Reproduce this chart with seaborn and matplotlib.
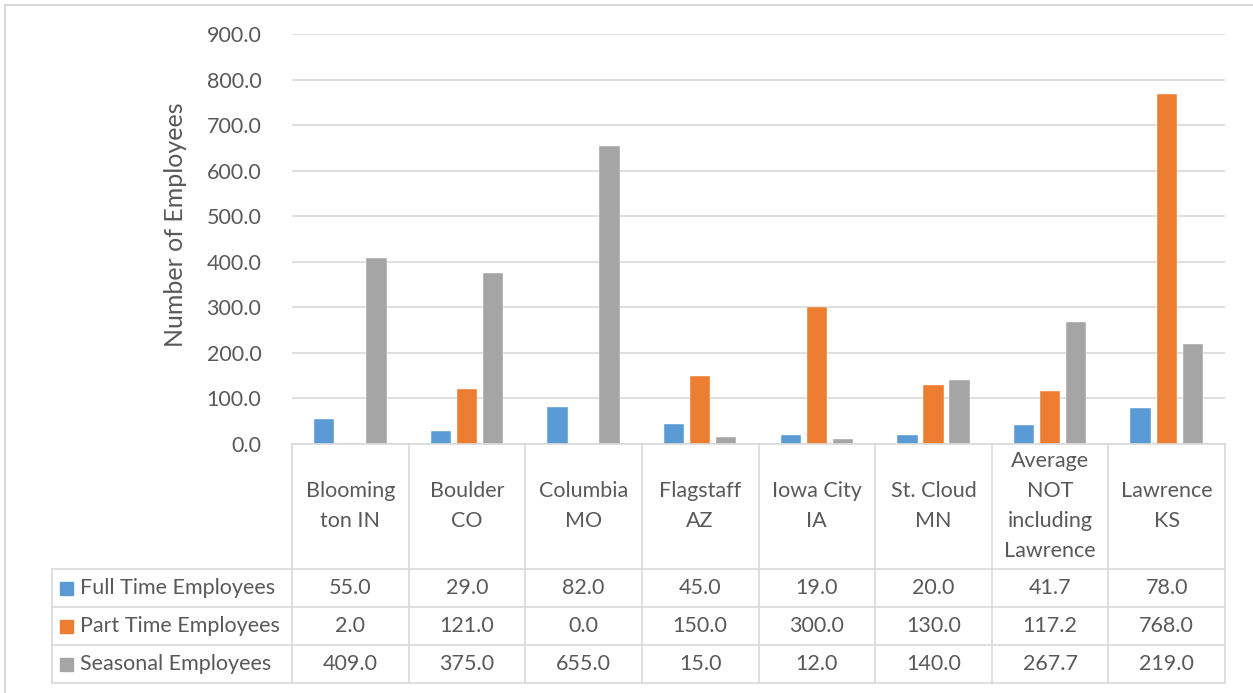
import numpy as np
import pandas as pd
import matplotlib
matplotlib.use('Agg')
import matplotlib.pyplot as plt
import seaborn as sns
from matplotlib.transforms import blended_transform_factory
from matplotlib.lines import Line2D
from matplotlib.patches import Rectangle

categories = ['Blooming\nton IN', 'Boulder\nCO', 'Columbia\nMO', 'Flagstaff\nAZ',
              'Iowa City\nIA', 'St. Cloud\nMN', 'Average\nNOT\nincluding\nLawrence',
              'Lawrence\nKS']
series_names = ['Full Time Employees', 'Part Time Employees', 'Seasonal Employees']
full_time = [55.0, 29.0, 82.0, 45.0, 19.0, 20.0, 41.7, 78.0]
part_time = [2.0, 121.0, 0.0, 150.0, 300.0, 130.0, 117.2, 768.0]
seasonal = [409.0, 375.0, 655.0, 15.0, 12.0, 140.0, 267.7, 219.0]
yticks = [0, 100, 200, 300, 400, 500, 600, 700, 800, 900]

colors = ['#5B9BD5', '#ED7D31', '#A5A5A5']
text_col = '#595959'
line_col = '#D9D9D9'
fs = 15.5

sns.set_theme(style='white')
plt.rcParams['font.family'] = ['Lato', 'DejaVu Sans']

df = pd.DataFrame({
    'city': categories * 3,
    'series': sum([[s] * len(categories) for s in series_names], []),
    'value': full_time + part_time + seasonal,
})

W, H = 1253, 693
fig = plt.figure(figsize=(W / 100, H / 100), dpi=100)
fig.patch.set_facecolor('white')

x0, x1 = 292, 1225
y_top, y_base = 34, 444
ax = fig.add_axes([x0 / W, 1 - y_base / H, (x1 - x0) / W, (y_base - y_top) / H])

sns.barplot(data=df, x='city', y='value', hue='series', palette=colors,
            saturation=1, width=0.67, gap=0.22, ax=ax, legend=False,
            edgecolor='white', linewidth=0.3)

ax.set_xlim(-0.5, len(categories) - 0.5)
ax.set_ylim(0, 900)
ax.set_yticks(yticks)
ax.set_yticklabels([f'{v:.1f}' for v in yticks], color=text_col, fontsize=fs)
ax.tick_params(axis='y', length=0, pad=22)
ax.set_xticks([])
ax.set_xlabel('')
ax.set_ylabel('Number of Employees', color=text_col, fontsize=18)
ax.yaxis.set_label_coords(-0.113, 0.534)
ax.yaxis.grid(True, color=line_col, linewidth=1.2)
ax.set_axisbelow(True)
for side in ['top', 'right', 'left']:
    ax.spines[side].set_visible(False)
ax.spines['bottom'].set_color(line_col)
ax.spines['bottom'].set_linewidth(1.2)

# data table under the plot
ph = y_base - y_top
def ay(py):
    return (y_base - py) / ph

tr = blended_transform_factory(ax.transData, ax.transAxes)
leg_left = -0.5 - (x0 - 52) / ((x1 - x0) / len(categories))
row_lines = [569, 607, 645, 683]
kw = dict(transform=tr, color=line_col, linewidth=1.2, clip_on=False)

for i in range(len(categories) + 1):
    ax.add_line(Line2D([i - 0.5, i - 0.5], [ay(y_base), ay(683)], **kw))
for r in row_lines:
    ax.add_line(Line2D([leg_left, len(categories) - 0.5], [ay(r), ay(r)], **kw))
ax.add_line(Line2D([leg_left, leg_left], [ay(569), ay(683)], **kw))

for i, c in enumerate(categories):
    ax.text(i, ay(506), c, transform=tr, ha='center', va='center',
            color=text_col, fontsize=fs, linespacing=1.62)

rows = [full_time, part_time, seasonal]
col_w_data = 1.0 / ((x1 - x0) / len(categories))
for k, (name, vals) in enumerate(zip(series_names, rows)):
    yc = ay((row_lines[k] + row_lines[k + 1]) / 2)
    ax.add_patch(Rectangle((leg_left + 8 * col_w_data, yc - 6.5 / ph), 13 * col_w_data,
                           13 / ph, transform=tr, color=colors[k], clip_on=False))
    ax.text(leg_left + 28 * col_w_data, yc, name, transform=tr, ha='left',
            va='center', color=text_col, fontsize=fs)
    for i, v in enumerate(vals):
        ax.text(i, yc, f'{v:.1f}', transform=tr, ha='center', va='center',
                color=text_col, fontsize=fs)

# outer chart border
fig.add_artist(Line2D([5 / W, 5 / W], [0, 1 - 5 / H], color=line_col, linewidth=1.5))
fig.add_artist(Line2D([5 / W, 1], [1 - 5 / H, 1 - 5 / H], color=line_col, linewidth=1.5))

fig.savefig('out.png', dpi=100)
